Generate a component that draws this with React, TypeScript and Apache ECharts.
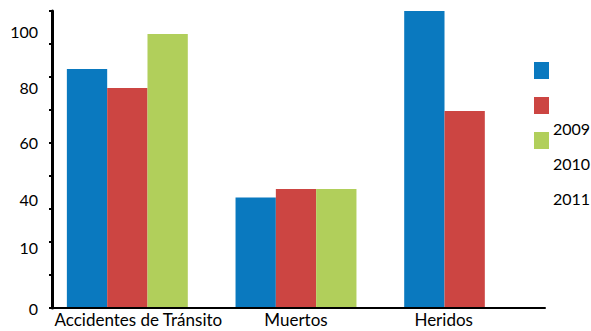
import React, { useEffect, useRef } from 'react';
import * as echarts from 'echarts';

const categories = ['Accidentes de Tránsito', 'Muertos', 'Heridos'];
const seriesNames = ['2009', '2010', '2011'];
const values2009 = [86.6, 40.0, 107.6];
const values2010 = [79.7, 43.1, 71.4];
const values2011: (number | null)[] = [99.3, 43.1, null];
const yLabelValues = [0, 20, 40, 60, 80, 100];
const yLabelTexts = ['0', '10', '40', '60', '80', '100'];

const COLORS = ['#0a79bf', '#cc4542', '#b1cf5b'];
const FONT = 'Lato';

export default function App() {
  const ref = useRef<HTMLDivElement>(null);
  useEffect(() => {
    document.body.style.margin = '0';
    const chart = echarts.init(ref.current!, null, { renderer: 'svg' });
    const yMax = 107.6;
    const txt = { fontFamily: FONT, fontSize: 16, color: '#000' };
    const txtX = { fontFamily: FONT, fontSize: 17, color: '#000' };
    chart.setOption({
      animation: false,
      textStyle: { fontFamily: FONT },
      grid: [
        { left: 43, right: 42, top: 11, bottom: 23 },
        { left: 52, right: 46, top: 11, bottom: 23 },
      ],
      xAxis: [
        {
          type: 'category',
          gridIndex: 0,
          data: categories,
          axisLine: { show: false },
          axisTick: { show: false },
          axisLabel: {
            ...txtX,
            margin: 3,
            interval: 0,
            formatter: (v: string, i: number) => `{c${i}|${v}}`,
            rich: {
              c0: { ...txtX, padding: [0, 0, 0, 22] },
              c1: { ...txtX },
              c2: { ...txtX, padding: [0, 42, 0, 0] },
            },
          },
        },
        {
          type: 'value',
          gridIndex: 1,
          min: 0,
          max: 1,
          z: 5,
          axisLine: { show: true, lineStyle: { color: '#000', width: 2 } },
          axisTick: { show: false },
          axisLabel: { show: false },
          splitLine: { show: false },
        },
      ],
      yAxis: [
        {
          type: 'value',
          gridIndex: 0,
          min: 0,
          max: yMax,
          interval: 20,
          axisLine: { show: false },
          axisTick: { show: false },
          splitLine: { show: false },
          axisLabel: {
            ...txt,
            margin: 5,
            formatter: (v: number) => {
              const k = yLabelValues.indexOf(Math.round(v * 1000) / 1000);
              if (k < 0) return '';
              if (k === 1) return `{up|${yLabelTexts[k]}}`;
              if (k === 2) return `{dn|${yLabelTexts[k]}}`;
              return yLabelTexts[k];
            },
            rich: {
              up: { ...txt, padding: [0, 0, 10, 0] },
              dn: { ...txt, padding: [3, 0, 0, 0] },
            },
          },
        },
        {
          type: 'value',
          gridIndex: 1,
          min: 0,
          max: yMax,
          interval: yMax / 9,
          z: 5,
          axisLine: { show: true, lineStyle: { color: '#000', width: 3 } },
          axisTick: { show: true, length: 3, lineStyle: { color: '#000', width: 2 } },
          axisLabel: { show: false },
          splitLine: { show: false },
        },
      ],
      legend: [
        {
          orient: 'vertical',
          left: 534,
          top: 62,
          padding: 0,
          itemWidth: 15,
          itemHeight: 17,
          itemGap: 18,
          icon: 'rect',
          selectedMode: false,
          formatter: () => '',
          data: seriesNames,
        },
        {
          orient: 'vertical',
          left: 548,
          top: 119,
          padding: 0,
          itemWidth: 0,
          itemHeight: 18,
          itemGap: 17,
          icon: 'rect',
          selectedMode: false,
          itemStyle: { opacity: 0 },
          textStyle: { ...txt },
          data: seriesNames,
        },
      ],
      series: [values2009, values2010, values2011].map((d, i) => ({
        type: 'bar',
        name: seriesNames[i],
        data: d,
        xAxisIndex: 0,
        yAxisIndex: 0,
        barGap: '0%',
        barCategoryGap: '28.3%',
        itemStyle: { color: COLORS[i] },
      })),
    });
    return () => chart.dispose();
  }, []);
  return <div ref={ref} style={{ width: 591, height: 331 }} />;
}
